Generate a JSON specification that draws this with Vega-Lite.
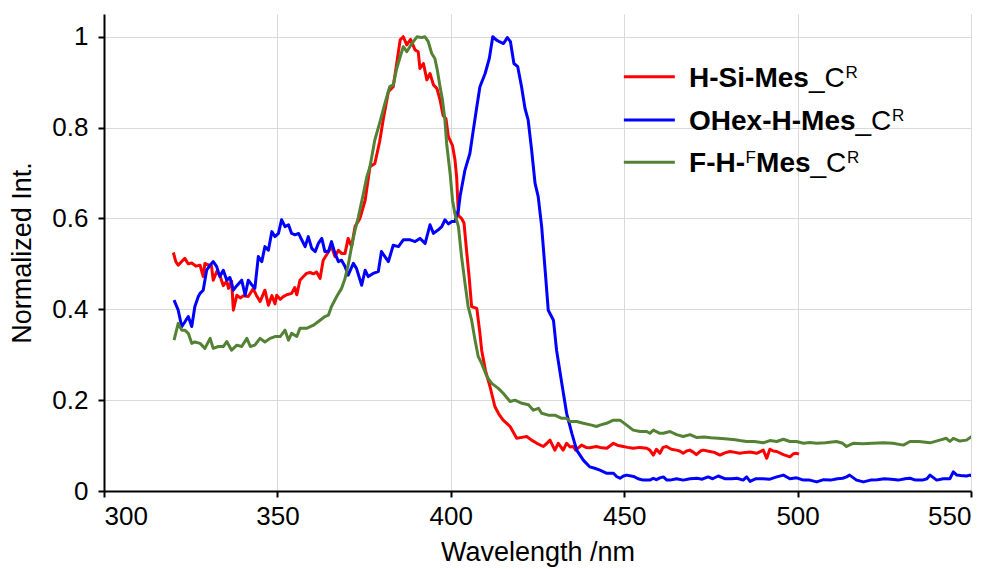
{
"$schema": "https://vega.github.io/schema/vega-lite/v6.json",
"width": 867, "height": 477,
"autosize": {"type": "none"},
"padding": {"left": 104, "top": 14, "right": 24, "bottom": 78},
"background": "white",
"config": {
 "view": {"stroke": null},
 "font": "Liberation Sans",
 "text": {"font": "Liberation Sans", "fontSize": 28, "color": "black", "align": "left", "baseline": "alphabetic"},
 "axis": {"domainColor": "black", "domainWidth": 2, "tickColor": "black", "tickWidth": 2, "tickSize": 6, "gridColor": "#d9d9d9", "gridWidth": 1, "labelFont": "Liberation Sans", "labelFontSize": 26, "labelColor": "black", "titleFont": "Liberation Sans", "titleFontWeight": "normal", "titleColor": "black", "titleFontSize": 27}
},
"data": {"values": [
{"s":"H-Si-Mes","wl":320,"v":0.525},{"s":"H-Si-Mes","wl":320.7,"v":0.505},{"s":"H-Si-Mes","wl":321.4,"v":0.497},{"s":"H-Si-Mes","wl":322.4,"v":0.505},{"s":"H-Si-Mes","wl":323.3,"v":0.512},{"s":"H-Si-Mes","wl":324.3,"v":0.5},{"s":"H-Si-Mes","wl":325.3,"v":0.502},{"s":"H-Si-Mes","wl":326.5,"v":0.495},{"s":"H-Si-Mes","wl":327.7,"v":0.497},{"s":"H-Si-Mes","wl":328.6,"v":0.472},{"s":"H-Si-Mes","wl":329.1,"v":0.501},{"s":"H-Si-Mes","wl":330,"v":0.498},{"s":"H-Si-Mes","wl":331,"v":0.495},{"s":"H-Si-Mes","wl":331.5,"v":0.464},{"s":"H-Si-Mes","wl":332.5,"v":0.483},{"s":"H-Si-Mes","wl":333.4,"v":0.475},{"s":"H-Si-Mes","wl":334.4,"v":0.452},{"s":"H-Si-Mes","wl":335.4,"v":0.462},{"s":"H-Si-Mes","wl":335.9,"v":0.446},{"s":"H-Si-Mes","wl":336.8,"v":0.462},{"s":"H-Si-Mes","wl":337.3,"v":0.398},{"s":"H-Si-Mes","wl":338.3,"v":0.431},{"s":"H-Si-Mes","wl":339.3,"v":0.425},{"s":"H-Si-Mes","wl":340.2,"v":0.43},{"s":"H-Si-Mes","wl":341.6,"v":0.428},{"s":"H-Si-Mes","wl":343,"v":0.445},{"s":"H-Si-Mes","wl":344,"v":0.43},{"s":"H-Si-Mes","wl":345,"v":0.417},{"s":"H-Si-Mes","wl":346.4,"v":0.442},{"s":"H-Si-Mes","wl":347.4,"v":0.409},{"s":"H-Si-Mes","wl":348.4,"v":0.43},{"s":"H-Si-Mes","wl":349.3,"v":0.412},{"s":"H-Si-Mes","wl":349.8,"v":0.431},{"s":"H-Si-Mes","wl":350.8,"v":0.422},{"s":"H-Si-Mes","wl":351.7,"v":0.428},{"s":"H-Si-Mes","wl":352.7,"v":0.432},{"s":"H-Si-Mes","wl":354.1,"v":0.435},{"s":"H-Si-Mes","wl":355,"v":0.448},{"s":"H-Si-Mes","wl":355.6,"v":0.432},{"s":"H-Si-Mes","wl":356.5,"v":0.464},{"s":"H-Si-Mes","wl":357.5,"v":0.472},{"s":"H-Si-Mes","wl":358.4,"v":0.479},{"s":"H-Si-Mes","wl":359.4,"v":0.481},{"s":"H-Si-Mes","wl":360.4,"v":0.478},{"s":"H-Si-Mes","wl":361.3,"v":0.482},{"s":"H-Si-Mes","wl":362.3,"v":0.468},{"s":"H-Si-Mes","wl":363.2,"v":0.508},{"s":"H-Si-Mes","wl":364.2,"v":0.52},{"s":"H-Si-Mes","wl":365.6,"v":0.538},{"s":"H-Si-Mes","wl":366.6,"v":0.516},{"s":"H-Si-Mes","wl":367.6,"v":0.53},{"s":"H-Si-Mes","wl":368.5,"v":0.523},{"s":"H-Si-Mes","wl":369.5,"v":0.523},{"s":"H-Si-Mes","wl":370.4,"v":0.556},{"s":"H-Si-Mes","wl":371.4,"v":0.538},{"s":"H-Si-Mes","wl":372.4,"v":0.582},{"s":"H-Si-Mes","wl":373.8,"v":0.6},{"s":"H-Si-Mes","wl":375.3,"v":0.64},{"s":"H-Si-Mes","wl":376.7,"v":0.714},{"s":"H-Si-Mes","wl":378.1,"v":0.721},{"s":"H-Si-Mes","wl":379.5,"v":0.77},{"s":"H-Si-Mes","wl":380.5,"v":0.817},{"s":"H-Si-Mes","wl":382,"v":0.879},{"s":"H-Si-Mes","wl":383.4,"v":0.89},{"s":"H-Si-Mes","wl":384.4,"v":0.941},{"s":"H-Si-Mes","wl":385.4,"v":0.993},{"s":"H-Si-Mes","wl":386.3,"v":1.0},{"s":"H-Si-Mes","wl":387.3,"v":0.982},{"s":"H-Si-Mes","wl":388.4,"v":0.994},{"s":"H-Si-Mes","wl":389.7,"v":0.971},{"s":"H-Si-Mes","wl":390.6,"v":0.967},{"s":"H-Si-Mes","wl":391.1,"v":0.93},{"s":"H-Si-Mes","wl":392.1,"v":0.941},{"s":"H-Si-Mes","wl":393.1,"v":0.905},{"s":"H-Si-Mes","wl":394,"v":0.919},{"s":"H-Si-Mes","wl":395,"v":0.894},{"s":"H-Si-Mes","wl":396,"v":0.886},{"s":"H-Si-Mes","wl":396.9,"v":0.861},{"s":"H-Si-Mes","wl":397.8,"v":0.826},{"s":"H-Si-Mes","wl":398.6,"v":0.82},{"s":"H-Si-Mes","wl":399.3,"v":0.78},{"s":"H-Si-Mes","wl":400.5,"v":0.76},{"s":"H-Si-Mes","wl":401.2,"v":0.729},{"s":"H-Si-Mes","wl":401.7,"v":0.69},{"s":"H-Si-Mes","wl":402.2,"v":0.606},{"s":"H-Si-Mes","wl":403.1,"v":0.6},{"s":"H-Si-Mes","wl":403.8,"v":0.59},{"s":"H-Si-Mes","wl":404.6,"v":0.525},{"s":"H-Si-Mes","wl":405.3,"v":0.47},{"s":"H-Si-Mes","wl":406,"v":0.406},{"s":"H-Si-Mes","wl":407.5,"v":0.402},{"s":"H-Si-Mes","wl":408.4,"v":0.347},{"s":"H-Si-Mes","wl":408.9,"v":0.31},{"s":"H-Si-Mes","wl":410,"v":0.265},{"s":"H-Si-Mes","wl":411.3,"v":0.23},{"s":"H-Si-Mes","wl":412.7,"v":0.186},{"s":"H-Si-Mes","wl":413.8,"v":0.17},{"s":"H-Si-Mes","wl":415.1,"v":0.156},{"s":"H-Si-Mes","wl":417.1,"v":0.142},{"s":"H-Si-Mes","wl":419,"v":0.116},{"s":"H-Si-Mes","wl":420.5,"v":0.118},{"s":"H-Si-Mes","wl":421.9,"v":0.12},{"s":"H-Si-Mes","wl":423.3,"v":0.112},{"s":"H-Si-Mes","wl":424.8,"v":0.105},{"s":"H-Si-Mes","wl":426.7,"v":0.098},{"s":"H-Si-Mes","wl":427.6,"v":0.104},{"s":"H-Si-Mes","wl":428.6,"v":0.112},{"s":"H-Si-Mes","wl":430,"v":0.09},{"s":"H-Si-Mes","wl":431,"v":0.105},{"s":"H-Si-Mes","wl":432.4,"v":0.09},{"s":"H-Si-Mes","wl":433.4,"v":0.105},{"s":"H-Si-Mes","wl":434.4,"v":0.097},{"s":"H-Si-Mes","wl":435.3,"v":0.098},{"s":"H-Si-Mes","wl":436,"v":0.09},{"s":"H-Si-Mes","wl":437.7,"v":0.101},{"s":"H-Si-Mes","wl":439,"v":0.096},{"s":"H-Si-Mes","wl":440,"v":0.095},{"s":"H-Si-Mes","wl":442,"v":0.098},{"s":"H-Si-Mes","wl":443.5,"v":0.095},{"s":"H-Si-Mes","wl":445,"v":0.094},{"s":"H-Si-Mes","wl":446.9,"v":0.105},{"s":"H-Si-Mes","wl":448.3,"v":0.1},{"s":"H-Si-Mes","wl":449.7,"v":0.098},{"s":"H-Si-Mes","wl":451,"v":0.096},{"s":"H-Si-Mes","wl":452.6,"v":0.094},{"s":"H-Si-Mes","wl":454.5,"v":0.096},{"s":"H-Si-Mes","wl":456.5,"v":0.094},{"s":"H-Si-Mes","wl":457.4,"v":0.09},{"s":"H-Si-Mes","wl":458.4,"v":0.079},{"s":"H-Si-Mes","wl":459.3,"v":0.092},{"s":"H-Si-Mes","wl":460.3,"v":0.083},{"s":"H-Si-Mes","wl":461.2,"v":0.096},{"s":"H-Si-Mes","wl":462.2,"v":0.098},{"s":"H-Si-Mes","wl":463.6,"v":0.092},{"s":"H-Si-Mes","wl":465,"v":0.09},{"s":"H-Si-Mes","wl":466,"v":0.088},{"s":"H-Si-Mes","wl":467,"v":0.083},{"s":"H-Si-Mes","wl":468,"v":0.088},{"s":"H-Si-Mes","wl":468.9,"v":0.09},{"s":"H-Si-Mes","wl":470,"v":0.085},{"s":"H-Si-Mes","wl":470.8,"v":0.08},{"s":"H-Si-Mes","wl":472,"v":0.088},{"s":"H-Si-Mes","wl":472.8,"v":0.09},{"s":"H-Si-Mes","wl":474.7,"v":0.087},{"s":"H-Si-Mes","wl":476,"v":0.085},{"s":"H-Si-Mes","wl":477.6,"v":0.079},{"s":"H-Si-Mes","wl":479,"v":0.084},{"s":"H-Si-Mes","wl":480.5,"v":0.087},{"s":"H-Si-Mes","wl":482,"v":0.085},{"s":"H-Si-Mes","wl":483.3,"v":0.083},{"s":"H-Si-Mes","wl":485,"v":0.085},{"s":"H-Si-Mes","wl":486.3,"v":0.086},{"s":"H-Si-Mes","wl":488.2,"v":0.083},{"s":"H-Si-Mes","wl":490.1,"v":0.09},{"s":"H-Si-Mes","wl":491.1,"v":0.072},{"s":"H-Si-Mes","wl":492,"v":0.092},{"s":"H-Si-Mes","wl":493,"v":0.088},{"s":"H-Si-Mes","wl":494,"v":0.087},{"s":"H-Si-Mes","wl":495.9,"v":0.08},{"s":"H-Si-Mes","wl":497.8,"v":0.075},{"s":"H-Si-Mes","wl":498.8,"v":0.082},{"s":"H-Si-Mes","wl":499.7,"v":0.083},{"s":"H-Si-Mes","wl":500.4,"v":0.081},
{"s":"OHex-H-Mes","wl":320.2,"v":0.42},{"s":"OHex-H-Mes","wl":321.4,"v":0.398},{"s":"OHex-H-Mes","wl":322.4,"v":0.362},{"s":"OHex-H-Mes","wl":323.3,"v":0.372},{"s":"OHex-H-Mes","wl":324.3,"v":0.384},{"s":"OHex-H-Mes","wl":325.3,"v":0.362},{"s":"OHex-H-Mes","wl":326.2,"v":0.406},{"s":"OHex-H-Mes","wl":327.2,"v":0.428},{"s":"OHex-H-Mes","wl":327.7,"v":0.435},{"s":"OHex-H-Mes","wl":328.6,"v":0.442},{"s":"OHex-H-Mes","wl":329.6,"v":0.486},{"s":"OHex-H-Mes","wl":330.6,"v":0.497},{"s":"OHex-H-Mes","wl":331.5,"v":0.505},{"s":"OHex-H-Mes","wl":332.5,"v":0.494},{"s":"OHex-H-Mes","wl":333.4,"v":0.472},{"s":"OHex-H-Mes","wl":334.4,"v":0.486},{"s":"OHex-H-Mes","wl":335.4,"v":0.464},{"s":"OHex-H-Mes","wl":336.3,"v":0.47},{"s":"OHex-H-Mes","wl":337.3,"v":0.442},{"s":"OHex-H-Mes","wl":338.3,"v":0.452},{"s":"OHex-H-Mes","wl":339.7,"v":0.464},{"s":"OHex-H-Mes","wl":340.7,"v":0.431},{"s":"OHex-H-Mes","wl":341.6,"v":0.464},{"s":"OHex-H-Mes","wl":342.6,"v":0.454},{"s":"OHex-H-Mes","wl":343.5,"v":0.446},{"s":"OHex-H-Mes","wl":344.5,"v":0.516},{"s":"OHex-H-Mes","wl":345.5,"v":0.505},{"s":"OHex-H-Mes","wl":346.4,"v":0.538},{"s":"OHex-H-Mes","wl":347.4,"v":0.53},{"s":"OHex-H-Mes","wl":348.4,"v":0.571},{"s":"OHex-H-Mes","wl":349.3,"v":0.56},{"s":"OHex-H-Mes","wl":350.3,"v":0.567},{"s":"OHex-H-Mes","wl":351.2,"v":0.597},{"s":"OHex-H-Mes","wl":352.2,"v":0.582},{"s":"OHex-H-Mes","wl":353.2,"v":0.586},{"s":"OHex-H-Mes","wl":354.1,"v":0.567},{"s":"OHex-H-Mes","wl":355.1,"v":0.564},{"s":"OHex-H-Mes","wl":356.1,"v":0.567},{"s":"OHex-H-Mes","wl":357,"v":0.553},{"s":"OHex-H-Mes","wl":358,"v":0.538},{"s":"OHex-H-Mes","wl":358.9,"v":0.56},{"s":"OHex-H-Mes","wl":359.9,"v":0.534},{"s":"OHex-H-Mes","wl":360.9,"v":0.527},{"s":"OHex-H-Mes","wl":361.8,"v":0.545},{"s":"OHex-H-Mes","wl":362.8,"v":0.556},{"s":"OHex-H-Mes","wl":363.7,"v":0.527},{"s":"OHex-H-Mes","wl":364.7,"v":0.527},{"s":"OHex-H-Mes","wl":365.6,"v":0.549},{"s":"OHex-H-Mes","wl":366.6,"v":0.523},{"s":"OHex-H-Mes","wl":367.6,"v":0.505},{"s":"OHex-H-Mes","wl":368.5,"v":0.508},{"s":"OHex-H-Mes","wl":369.5,"v":0.494},{"s":"OHex-H-Mes","wl":370.4,"v":0.475},{"s":"OHex-H-Mes","wl":371.9,"v":0.501},{"s":"OHex-H-Mes","wl":372.8,"v":0.49},{"s":"OHex-H-Mes","wl":374.3,"v":0.453},{"s":"OHex-H-Mes","wl":375.3,"v":0.486},{"s":"OHex-H-Mes","wl":376.2,"v":0.472},{"s":"OHex-H-Mes","wl":377.6,"v":0.479},{"s":"OHex-H-Mes","wl":379.1,"v":0.483},{"s":"OHex-H-Mes","wl":380,"v":0.527},{"s":"OHex-H-Mes","wl":381,"v":0.516},{"s":"OHex-H-Mes","wl":382,"v":0.505},{"s":"OHex-H-Mes","wl":383.4,"v":0.541},{"s":"OHex-H-Mes","wl":384.9,"v":0.538},{"s":"OHex-H-Mes","wl":386.3,"v":0.553},{"s":"OHex-H-Mes","wl":387.3,"v":0.553},{"s":"OHex-H-Mes","wl":388.3,"v":0.553},{"s":"OHex-H-Mes","wl":389.7,"v":0.549},{"s":"OHex-H-Mes","wl":391.1,"v":0.556},{"s":"OHex-H-Mes","wl":392.6,"v":0.545},{"s":"OHex-H-Mes","wl":394,"v":0.586},{"s":"OHex-H-Mes","wl":395,"v":0.567},{"s":"OHex-H-Mes","wl":396.4,"v":0.575},{"s":"OHex-H-Mes","wl":397.4,"v":0.582},{"s":"OHex-H-Mes","wl":398.3,"v":0.597},{"s":"OHex-H-Mes","wl":399.3,"v":0.588},{"s":"OHex-H-Mes","wl":400.3,"v":0.593},{"s":"OHex-H-Mes","wl":401.2,"v":0.593},{"s":"OHex-H-Mes","wl":402.2,"v":0.619},{"s":"OHex-H-Mes","wl":402.7,"v":0.65},{"s":"OHex-H-Mes","wl":404.1,"v":0.707},{"s":"OHex-H-Mes","wl":405.5,"v":0.743},{"s":"OHex-H-Mes","wl":406.5,"v":0.795},{"s":"OHex-H-Mes","wl":407.5,"v":0.846},{"s":"OHex-H-Mes","wl":408.4,"v":0.89},{"s":"OHex-H-Mes","wl":409.9,"v":0.919},{"s":"OHex-H-Mes","wl":411.1,"v":0.952},{"s":"OHex-H-Mes","wl":412.1,"v":1.0},{"s":"OHex-H-Mes","wl":413.1,"v":0.993},{"s":"OHex-H-Mes","wl":414,"v":0.989},{"s":"OHex-H-Mes","wl":415.2,"v":0.985},{"s":"OHex-H-Mes","wl":416.3,"v":0.998},{"s":"OHex-H-Mes","wl":417.2,"v":0.989},{"s":"OHex-H-Mes","wl":418.2,"v":0.941},{"s":"OHex-H-Mes","wl":419.3,"v":0.934},{"s":"OHex-H-Mes","wl":420.4,"v":0.89},{"s":"OHex-H-Mes","wl":421.4,"v":0.842},{"s":"OHex-H-Mes","wl":422.3,"v":0.817},{"s":"OHex-H-Mes","wl":423.3,"v":0.751},{"s":"OHex-H-Mes","wl":424.3,"v":0.677},{"s":"OHex-H-Mes","wl":425.2,"v":0.648},{"s":"OHex-H-Mes","wl":426.2,"v":0.582},{"s":"OHex-H-Mes","wl":427.2,"v":0.486},{"s":"OHex-H-Mes","wl":428.1,"v":0.398},{"s":"OHex-H-Mes","wl":429.6,"v":0.376},{"s":"OHex-H-Mes","wl":430.5,"v":0.31},{"s":"OHex-H-Mes","wl":432,"v":0.237},{"s":"OHex-H-Mes","wl":433.4,"v":0.171},{"s":"OHex-H-Mes","wl":434.9,"v":0.127},{"s":"OHex-H-Mes","wl":436.3,"v":0.09},{"s":"OHex-H-Mes","wl":438.2,"v":0.068},{"s":"OHex-H-Mes","wl":440.1,"v":0.053},{"s":"OHex-H-Mes","wl":441.5,"v":0.05},{"s":"OHex-H-Mes","wl":443,"v":0.046},{"s":"OHex-H-Mes","wl":445,"v":0.039},{"s":"OHex-H-Mes","wl":446.9,"v":0.039},{"s":"OHex-H-Mes","wl":447.8,"v":0.032},{"s":"OHex-H-Mes","wl":448.8,"v":0.028},{"s":"OHex-H-Mes","wl":449.8,"v":0.033},{"s":"OHex-H-Mes","wl":450.7,"v":0.035},{"s":"OHex-H-Mes","wl":452.7,"v":0.032},{"s":"OHex-H-Mes","wl":454,"v":0.027},{"s":"OHex-H-Mes","wl":455.5,"v":0.024},{"s":"OHex-H-Mes","wl":457.4,"v":0.024},{"s":"OHex-H-Mes","wl":458.4,"v":0.028},{"s":"OHex-H-Mes","wl":459.3,"v":0.025},{"s":"OHex-H-Mes","wl":460.3,"v":0.029},{"s":"OHex-H-Mes","wl":461.3,"v":0.031},{"s":"OHex-H-Mes","wl":462.3,"v":0.024},{"s":"OHex-H-Mes","wl":463.2,"v":0.024},{"s":"OHex-H-Mes","wl":465.1,"v":0.027},{"s":"OHex-H-Mes","wl":467,"v":0.024},{"s":"OHex-H-Mes","wl":469,"v":0.027},{"s":"OHex-H-Mes","wl":471,"v":0.028},{"s":"OHex-H-Mes","wl":472.5,"v":0.026},{"s":"OHex-H-Mes","wl":474.2,"v":0.031},{"s":"OHex-H-Mes","wl":475.5,"v":0.027},{"s":"OHex-H-Mes","wl":477.1,"v":0.033},{"s":"OHex-H-Mes","wl":479,"v":0.027},{"s":"OHex-H-Mes","wl":481,"v":0.027},{"s":"OHex-H-Mes","wl":482.5,"v":0.028},{"s":"OHex-H-Mes","wl":484.3,"v":0.024},{"s":"OHex-H-Mes","wl":485.3,"v":0.031},{"s":"OHex-H-Mes","wl":486.3,"v":0.021},{"s":"OHex-H-Mes","wl":488,"v":0.027},{"s":"OHex-H-Mes","wl":490,"v":0.027},{"s":"OHex-H-Mes","wl":492,"v":0.026},{"s":"OHex-H-Mes","wl":494,"v":0.031},{"s":"OHex-H-Mes","wl":495.9,"v":0.035},{"s":"OHex-H-Mes","wl":497.8,"v":0.027},{"s":"OHex-H-Mes","wl":499.7,"v":0.029},{"s":"OHex-H-Mes","wl":501.7,"v":0.024},{"s":"OHex-H-Mes","wl":503.5,"v":0.024},{"s":"OHex-H-Mes","wl":505.5,"v":0.02},{"s":"OHex-H-Mes","wl":507.5,"v":0.025},{"s":"OHex-H-Mes","wl":509.5,"v":0.024},{"s":"OHex-H-Mes","wl":511.5,"v":0.027},{"s":"OHex-H-Mes","wl":513,"v":0.028},{"s":"OHex-H-Mes","wl":514.1,"v":0.031},{"s":"OHex-H-Mes","wl":515,"v":0.035},{"s":"OHex-H-Mes","wl":517,"v":0.024},{"s":"OHex-H-Mes","wl":519,"v":0.02},{"s":"OHex-H-Mes","wl":521,"v":0.024},{"s":"OHex-H-Mes","wl":523,"v":0.025},{"s":"OHex-H-Mes","wl":525,"v":0.027},{"s":"OHex-H-Mes","wl":527,"v":0.026},{"s":"OHex-H-Mes","wl":529,"v":0.024},{"s":"OHex-H-Mes","wl":531,"v":0.027},{"s":"OHex-H-Mes","wl":532.4,"v":0.028},{"s":"OHex-H-Mes","wl":534,"v":0.024},{"s":"OHex-H-Mes","wl":536,"v":0.024},{"s":"OHex-H-Mes","wl":537.3,"v":0.027},{"s":"OHex-H-Mes","wl":538.2,"v":0.035},{"s":"OHex-H-Mes","wl":540.1,"v":0.024},{"s":"OHex-H-Mes","wl":542,"v":0.027},{"s":"OHex-H-Mes","wl":543.9,"v":0.027},{"s":"OHex-H-Mes","wl":544.9,"v":0.042},{"s":"OHex-H-Mes","wl":545.9,"v":0.035},{"s":"OHex-H-Mes","wl":547,"v":0.034},{"s":"OHex-H-Mes","wl":548.7,"v":0.033},{"s":"OHex-H-Mes","wl":549.7,"v":0.035},{"s":"OHex-H-Mes","wl":550.3,"v":0.033},
{"s":"F-H-FMes","wl":320.2,"v":0.332},{"s":"F-H-FMes","wl":321.4,"v":0.369},{"s":"F-H-FMes","wl":322.4,"v":0.354},{"s":"F-H-FMes","wl":323.3,"v":0.354},{"s":"F-H-FMes","wl":324.3,"v":0.347},{"s":"F-H-FMes","wl":325.3,"v":0.325},{"s":"F-H-FMes","wl":326.2,"v":0.328},{"s":"F-H-FMes","wl":327.7,"v":0.325},{"s":"F-H-FMes","wl":329.1,"v":0.314},{"s":"F-H-FMes","wl":330.6,"v":0.336},{"s":"F-H-FMes","wl":331.5,"v":0.314},{"s":"F-H-FMes","wl":333,"v":0.318},{"s":"F-H-FMes","wl":334.4,"v":0.318},{"s":"F-H-FMes","wl":335.4,"v":0.329},{"s":"F-H-FMes","wl":336.8,"v":0.31},{"s":"F-H-FMes","wl":338.3,"v":0.321},{"s":"F-H-FMes","wl":339.7,"v":0.318},{"s":"F-H-FMes","wl":341.2,"v":0.336},{"s":"F-H-FMes","wl":342.2,"v":0.318},{"s":"F-H-FMes","wl":343.5,"v":0.321},{"s":"F-H-FMes","wl":345,"v":0.336},{"s":"F-H-FMes","wl":346.4,"v":0.328},{"s":"F-H-FMes","wl":347.9,"v":0.336},{"s":"F-H-FMes","wl":349.3,"v":0.34},{"s":"F-H-FMes","wl":350.8,"v":0.34},{"s":"F-H-FMes","wl":352.2,"v":0.354},{"s":"F-H-FMes","wl":353.2,"v":0.332},{"s":"F-H-FMes","wl":354.1,"v":0.347},{"s":"F-H-FMes","wl":355.6,"v":0.34},{"s":"F-H-FMes","wl":356.5,"v":0.358},{"s":"F-H-FMes","wl":358.4,"v":0.358},{"s":"F-H-FMes","wl":360.4,"v":0.365},{"s":"F-H-FMes","wl":362.3,"v":0.376},{"s":"F-H-FMes","wl":363.7,"v":0.384},{"s":"F-H-FMes","wl":364.7,"v":0.387},{"s":"F-H-FMes","wl":365.6,"v":0.406},{"s":"F-H-FMes","wl":367.1,"v":0.428},{"s":"F-H-FMes","wl":368.5,"v":0.446},{"s":"F-H-FMes","wl":369.5,"v":0.468},{"s":"F-H-FMes","wl":370.4,"v":0.497},{"s":"F-H-FMes","wl":371.4,"v":0.538},{"s":"F-H-FMes","wl":372.4,"v":0.575},{"s":"F-H-FMes","wl":373.3,"v":0.602},{"s":"F-H-FMes","wl":374.8,"v":0.655},{"s":"F-H-FMes","wl":375.8,"v":0.692},{"s":"F-H-FMes","wl":376.7,"v":0.714},{"s":"F-H-FMes","wl":378.1,"v":0.773},{"s":"F-H-FMes","wl":379.6,"v":0.813},{"s":"F-H-FMes","wl":381,"v":0.853},{"s":"F-H-FMes","wl":382.4,"v":0.89},{"s":"F-H-FMes","wl":383.4,"v":0.894},{"s":"F-H-FMes","wl":384.4,"v":0.93},{"s":"F-H-FMes","wl":385.4,"v":0.956},{"s":"F-H-FMes","wl":386.3,"v":0.978},{"s":"F-H-FMes","wl":387.3,"v":0.967},{"s":"F-H-FMes","wl":388.2,"v":0.978},{"s":"F-H-FMes","wl":389.2,"v":0.989},{"s":"F-H-FMes","wl":390.3,"v":1.0},{"s":"F-H-FMes","wl":391.6,"v":0.998},{"s":"F-H-FMes","wl":392.5,"v":1.0},{"s":"F-H-FMes","wl":393.5,"v":0.989},{"s":"F-H-FMes","wl":394.5,"v":0.963},{"s":"F-H-FMes","wl":395.4,"v":0.952},{"s":"F-H-FMes","wl":396.1,"v":0.927},{"s":"F-H-FMes","wl":396.9,"v":0.89},{"s":"F-H-FMes","wl":397.6,"v":0.861},{"s":"F-H-FMes","wl":398.3,"v":0.817},{"s":"F-H-FMes","wl":398.8,"v":0.765},{"s":"F-H-FMes","wl":399.8,"v":0.699},{"s":"F-H-FMes","wl":400.5,"v":0.64},{"s":"F-H-FMes","wl":401.2,"v":0.61},{"s":"F-H-FMes","wl":402.2,"v":0.582},{"s":"F-H-FMes","wl":403.1,"v":0.516},{"s":"F-H-FMes","wl":404.1,"v":0.457},{"s":"F-H-FMes","wl":405,"v":0.406},{"s":"F-H-FMes","wl":406,"v":0.376},{"s":"F-H-FMes","wl":407,"v":0.332},{"s":"F-H-FMes","wl":407.9,"v":0.296},{"s":"F-H-FMes","wl":408.9,"v":0.281},{"s":"F-H-FMes","wl":410.4,"v":0.252},{"s":"F-H-FMes","wl":411.8,"v":0.237},{"s":"F-H-FMes","wl":413.7,"v":0.226},{"s":"F-H-FMes","wl":415.1,"v":0.215},{"s":"F-H-FMes","wl":417.1,"v":0.197},{"s":"F-H-FMes","wl":418.5,"v":0.2},{"s":"F-H-FMes","wl":420.5,"v":0.193},{"s":"F-H-FMes","wl":422.4,"v":0.19},{"s":"F-H-FMes","wl":423.8,"v":0.178},{"s":"F-H-FMes","wl":425.3,"v":0.182},{"s":"F-H-FMes","wl":426.2,"v":0.171},{"s":"F-H-FMes","wl":428.1,"v":0.167},{"s":"F-H-FMes","wl":430,"v":0.167},{"s":"F-H-FMes","wl":432,"v":0.16},{"s":"F-H-FMes","wl":433.4,"v":0.16},{"s":"F-H-FMes","wl":434.4,"v":0.153},{"s":"F-H-FMes","wl":436.3,"v":0.153},{"s":"F-H-FMes","wl":438.2,"v":0.149},{"s":"F-H-FMes","wl":440.6,"v":0.145},{"s":"F-H-FMes","wl":442,"v":0.142},{"s":"F-H-FMes","wl":443,"v":0.145},{"s":"F-H-FMes","wl":444.9,"v":0.149},{"s":"F-H-FMes","wl":446.9,"v":0.156},{"s":"F-H-FMes","wl":448.8,"v":0.156},{"s":"F-H-FMes","wl":450.7,"v":0.145},{"s":"F-H-FMes","wl":452.6,"v":0.134},{"s":"F-H-FMes","wl":454.6,"v":0.131},{"s":"F-H-FMes","wl":456.5,"v":0.131},{"s":"F-H-FMes","wl":457.4,"v":0.127},{"s":"F-H-FMes","wl":458.4,"v":0.134},{"s":"F-H-FMes","wl":460.3,"v":0.127},{"s":"F-H-FMes","wl":461.3,"v":0.127},{"s":"F-H-FMes","wl":463.2,"v":0.131},{"s":"F-H-FMes","wl":465.1,"v":0.124},{"s":"F-H-FMes","wl":467,"v":0.12},{"s":"F-H-FMes","wl":469,"v":0.124},{"s":"F-H-FMes","wl":470.8,"v":0.118},{"s":"F-H-FMes","wl":473,"v":0.119},{"s":"F-H-FMes","wl":475,"v":0.117},{"s":"F-H-FMes","wl":477.1,"v":0.116},{"s":"F-H-FMes","wl":479,"v":0.115},{"s":"F-H-FMes","wl":480.5,"v":0.114},{"s":"F-H-FMes","wl":482,"v":0.113},{"s":"F-H-FMes","wl":483.3,"v":0.111},{"s":"F-H-FMes","wl":485.3,"v":0.109},{"s":"F-H-FMes","wl":487.5,"v":0.109},{"s":"F-H-FMes","wl":490.1,"v":0.106},{"s":"F-H-FMes","wl":492,"v":0.111},{"s":"F-H-FMes","wl":494,"v":0.109},{"s":"F-H-FMes","wl":495.9,"v":0.114},{"s":"F-H-FMes","wl":497.8,"v":0.109},{"s":"F-H-FMes","wl":499.7,"v":0.109},{"s":"F-H-FMes","wl":501.7,"v":0.105},{"s":"F-H-FMes","wl":503.5,"v":0.107},{"s":"F-H-FMes","wl":505.5,"v":0.105},{"s":"F-H-FMes","wl":508,"v":0.106},{"s":"F-H-FMes","wl":511.2,"v":0.109},{"s":"F-H-FMes","wl":513,"v":0.105},{"s":"F-H-FMes","wl":514.1,"v":0.098},{"s":"F-H-FMes","wl":516,"v":0.105},{"s":"F-H-FMes","wl":518.8,"v":0.104},{"s":"F-H-FMes","wl":521.5,"v":0.105},{"s":"F-H-FMes","wl":524.7,"v":0.106},{"s":"F-H-FMes","wl":527.5,"v":0.105},{"s":"F-H-FMes","wl":530.5,"v":0.101},{"s":"F-H-FMes","wl":532.4,"v":0.109},{"s":"F-H-FMes","wl":535,"v":0.109},{"s":"F-H-FMes","wl":538.2,"v":0.106},{"s":"F-H-FMes","wl":541,"v":0.112},{"s":"F-H-FMes","wl":542.9,"v":0.116},{"s":"F-H-FMes","wl":543.9,"v":0.109},{"s":"F-H-FMes","wl":544.9,"v":0.116},{"s":"F-H-FMes","wl":546.8,"v":0.11},{"s":"F-H-FMes","wl":548.7,"v":0.112},{"s":"F-H-FMes","wl":550.2,"v":0.12}
]},
"layer": [
 {
  "mark": {"type": "line", "strokeWidth": 3, "clip": true, "strokeJoin": "round"},
  "encoding": {
   "x": {"field": "wl", "type": "quantitative", "scale": {"domain": [300, 550], "nice": false, "zero": false}, "axis": {"values": [300, 350, 400, 450, 500, 550], "format": "d", "title": "Wavelength /nm", "labelPadding": 6, "titlePadding": 10}},
   "y": {"field": "v", "type": "quantitative", "scale": {"domain": [0, 1.05], "nice": false}, "axis": {"values": [0, 0.2, 0.4, 0.6, 0.8, 1], "format": ".1~f", "title": "Normalized Int.", "labelPadding": 10, "titlePadding": 15}},
   "color": {"field": "s", "type": "nominal", "scale": {"domain": ["H-Si-Mes", "OHex-H-Mes", "F-H-FMes"], "range": ["#ff0000", "#0000ff", "#548235"]}, "legend": null}
  }
 },
 {"data": {"values": [{}]}, "mark": {"type": "rule", "strokeWidth": 3, "color": "#ff0000"}, "encoding": {"x": {"datum": 449.9}, "x2": {"datum": 464.6}, "y": {"datum": 0.912}}},
 {"data": {"values": [{}]}, "mark": {"type": "rule", "strokeWidth": 3, "color": "#0000ff"}, "encoding": {"x": {"datum": 449.9}, "x2": {"datum": 464.6}, "y": {"datum": 0.8166}}},
 {"data": {"values": [{}]}, "mark": {"type": "rule", "strokeWidth": 3, "color": "#548235"}, "encoding": {"x": {"datum": 449.9}, "x2": {"datum": 464.6}, "y": {"datum": 0.7235}}},
 {"data": {"values": [{}]}, "mark": {"type": "text", "text": "H-Si-Mes", "fontWeight": "bold"}, "encoding": {"x": {"datum": 468.7}, "y": {"datum": 0.89}}},
 {"data": {"values": [{}]}, "mark": {"type": "text", "text": "_C", "dx": 120}, "encoding": {"x": {"datum": 468.7}, "y": {"datum": 0.89}}},
 {"data": {"values": [{}]}, "mark": {"type": "text", "text": "R", "dx": 156.5, "dy": -9, "fontSize": 17}, "encoding": {"x": {"datum": 468.7}, "y": {"datum": 0.89}}},
 {"data": {"values": [{}]}, "mark": {"type": "text", "text": "OHex-H-Mes", "fontWeight": "bold"}, "encoding": {"x": {"datum": 468.7}, "y": {"datum": 0.7946}}},
 {"data": {"values": [{}]}, "mark": {"type": "text", "text": "_C", "dx": 166.5}, "encoding": {"x": {"datum": 468.7}, "y": {"datum": 0.7946}}},
 {"data": {"values": [{}]}, "mark": {"type": "text", "text": "R", "dx": 203, "dy": -9, "fontSize": 17}, "encoding": {"x": {"datum": 468.7}, "y": {"datum": 0.7946}}},
 {"data": {"values": [{}]}, "mark": {"type": "text", "text": "F-H-", "fontWeight": "bold"}, "encoding": {"x": {"datum": 468.7}, "y": {"datum": 0.703}}},
 {"data": {"values": [{}]}, "mark": {"type": "text", "text": "F", "dx": 56.5, "dy": -9, "fontSize": 17}, "encoding": {"x": {"datum": 468.7}, "y": {"datum": 0.703}}},
 {"data": {"values": [{}]}, "mark": {"type": "text", "text": "Mes", "dx": 67, "fontWeight": "bold"}, "encoding": {"x": {"datum": 468.7}, "y": {"datum": 0.703}}},
 {"data": {"values": [{}]}, "mark": {"type": "text", "text": "_C", "dx": 121.5}, "encoding": {"x": {"datum": 468.7}, "y": {"datum": 0.703}}},
 {"data": {"values": [{}]}, "mark": {"type": "text", "text": "R", "dx": 158, "dy": -9, "fontSize": 17}, "encoding": {"x": {"datum": 468.7}, "y": {"datum": 0.703}}}
]
}
